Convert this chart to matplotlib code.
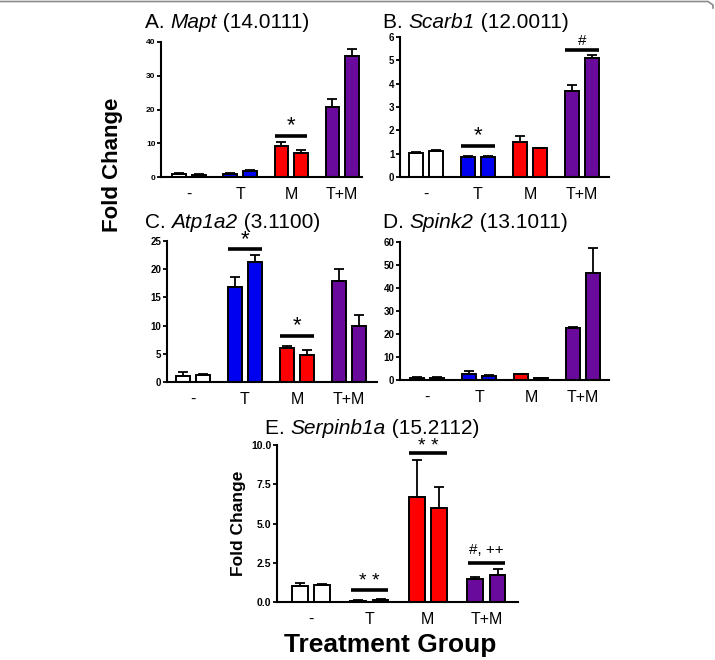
import numpy as np
import matplotlib
matplotlib.use("Agg")
import matplotlib.pyplot as plt
from matplotlib.lines import Line2D

plt.rcParams["font.family"] = ["Liberation Sans", "DejaVu Sans"]

GROUPS = ["-", "T", "M", "T+M"]
BAR_COLORS = ["#ffffff", "#0000f0", "#ff0000", "#6a0a9c"]

# two bars per group, fold change and upper error
MAPT = [1.0, 0.7, 1.0, 1.8, 9.3, 7.0, 20.7, 35.8]
MAPT_ERR = [0.15, 0.2, 0.2, 0.3, 1.2, 1.0, 2.5, 2.2]
SCARB1 = [1.04, 1.11, 0.84, 0.87, 1.51, 1.23, 3.69, 5.11]
SCARB1_ERR = [0.02, 0.03, 0.07, 0.03, 0.25, 0.03, 0.25, 0.14]
ATP1A2 = [1.1, 1.24, 16.9, 21.3, 5.97, 4.8, 17.9, 10.0]
ATP1A2_ERR = [0.7, 0.15, 1.8, 1.2, 0.4, 0.9, 2.1, 1.9]
SPINK2 = [1.0, 1.0, 2.6, 1.8, 2.6, 0.7, 22.7, 46.4]
SPINK2_ERR = [0.3, 0.3, 1.2, 0.3, 0.2, 0.1, 0.4, 11.1]
SERPINB1A = [1.02, 1.08, 0.08, 0.12, 6.71, 5.97, 1.44, 1.72]
SERPINB1A_ERR = [0.17, 0.08, 0.02, 0.05, 2.34, 1.33, 0.18, 0.38]

TITLES = [
    ("A. ", "Mapt", " (14.0111)"),
    ("B. ", "Scarb1", " (12.0011)"),
    ("C. ", "Atp1a2", " (3.1100)"),
    ("D. ", "Spink2", " (13.1011)"),
    ("E. ", "Serpinb1a", " (15.2112)"),
]

W, H = 715, 660


def px_axes(fig, left, right, top, bottom):
    return fig.add_axes([left / W, 1 - bottom / H, (right - left) / W, (bottom - top) / H])


def draw_panel(ax, vals, errs, ymax, yticks, xlim, fmt="{:g}", off=0.19, width=0.27):
    x = []
    colors = []
    for g in range(4):
        x += [g - off, g + off]
        colors += [BAR_COLORS[g]] * 2
    ax.bar(x, vals, width=width, color=colors, edgecolor="black", linewidth=1.4, zorder=2)
    ax.errorbar(x, vals, yerr=[np.zeros(len(vals)), errs], fmt="none", ecolor="black",
                elinewidth=1.3, capsize=3.3, capthick=1.3, zorder=3)
    ax.set_ylim(0, ymax)
    ax.set_xlim(*xlim)
    ax.set_yticks(yticks)
    ax.set_yticklabels([fmt.format(t) for t in yticks], fontsize=7, fontweight="bold")
    ax.set_xticks(range(4))
    ax.set_xticklabels(GROUPS, fontsize=11.5)
    ax.tick_params(axis="x", length=0, pad=7)
    ax.tick_params(axis="y", length=3, width=1.3, pad=1)
    for s in ["top", "right"]:
        ax.spines[s].set_visible(False)
    for s in ["left", "bottom"]:
        ax.spines[s].set_linewidth(1.5)
        ax.spines[s].set_clip_on(False)


def sig(ax, g, y, text, dy, fs=16, half=0.32):
    ax.plot([g - half, g + half], [y, y], color="black", lw=2.6, clip_on=False, solid_capstyle="butt")
    ax.text(g, y + dy, text, ha="center", va="bottom", fontsize=fs, clip_on=False)


def title(fig, ax, tx, ty, parts, fs=15):
    t1 = fig.text(tx / W, 1 - ty / H, parts[0], fontsize=fs, ha="left", va="center")
    t2 = ax.annotate(parts[1], xy=(1, 0), xycoords=t1, ha="left", va="bottom",
                     fontsize=fs, style="italic", annotation_clip=False)
    ax.annotate(parts[2], xy=(1, 0), xycoords=t2, ha="left", va="bottom",
                fontsize=fs, annotation_clip=False)


fig = plt.figure(figsize=(W / 100, H / 100), dpi=100)

# A. Mapt
ax = px_axes(fig, 161, 362, 42, 177)
draw_panel(ax, MAPT, MAPT_ERR, 40, [0, 10, 20, 30, 40], (-0.55, 3.39))
ax.tick_params(axis="y", labelsize=6)
sig(ax, 2, 12.1, "*", 0.0)
title(fig, ax, 145, 22, TITLES[0])

# B. Scarb1
ax = px_axes(fig, 400, 609, 37, 177)
draw_panel(ax, SCARB1, SCARB1_ERR, 6, [0, 1, 2, 3, 4, 5, 6], (-0.5, 3.52))
sig(ax, 1, 1.34, "*", -0.02)
sig(ax, 3, 5.44, "#", 0.1, fs=11)
title(fig, ax, 383, 22, TITLES[1])

# C. Atp1a2
ax = px_axes(fig, 167, 377, 241, 382)
draw_panel(ax, ATP1A2, ATP1A2_ERR, 25, [0, 5, 10, 15, 20, 25], (-0.5, 3.54))
sig(ax, 1, 23.6, "*", -0.3)
sig(ax, 2, 8.2, "*", 0.0)
title(fig, ax, 145, 222, TITLES[2])

# D. Spink2
ax = px_axes(fig, 400, 609, 242, 380)
draw_panel(ax, SPINK2, SPINK2_ERR, 60, [0, 10, 20, 30, 40, 50, 60], (-0.52, 3.5))
title(fig, ax, 383, 222, TITLES[3])

# E. Serpinb1a
ax = px_axes(fig, 277, 518, 445, 602)
draw_panel(ax, SERPINB1A, SERPINB1A_ERR, 10, [0, 2.5, 5.0, 7.5, 10.0], (-0.58, 3.54),
           fmt="{:.1f}")
ax.tick_params(axis="y", labelsize=7.5)
sig(ax, 1, 0.76, "* *", 0.0, fs=14)
sig(ax, 2, 9.47, "* *", -0.1, fs=14)
sig(ax, 3, 2.5, "#, ++", 0.35, fs=11)
ax.set_ylabel("Fold Change", fontsize=12.5, fontweight="bold", labelpad=4)
ax.set_xlabel("Treatment Group", fontsize=19, fontweight="bold", labelpad=3)
ax.xaxis.set_label_coords(0.47, -0.2)
ax.xaxis.label.set_va("top")
title(fig, ax, 265, 428, TITLES[4])

fig.text(112 / W, 1 - 165 / H, "Fold Change", fontsize=16, fontweight="bold",
         rotation=90, ha="center", va="center")

# frame line at top
fig.add_artist(Line2D([0, 708 / W, 713 / W, 713 / W], [1 - 1.5 / H, 1 - 1.5 / H, 1 - 5 / H, 1 - 8 / H],
                      color="#8a8a8a", lw=1.2, transform=fig.transFigure))

fig.savefig("out.png", dpi=100)
